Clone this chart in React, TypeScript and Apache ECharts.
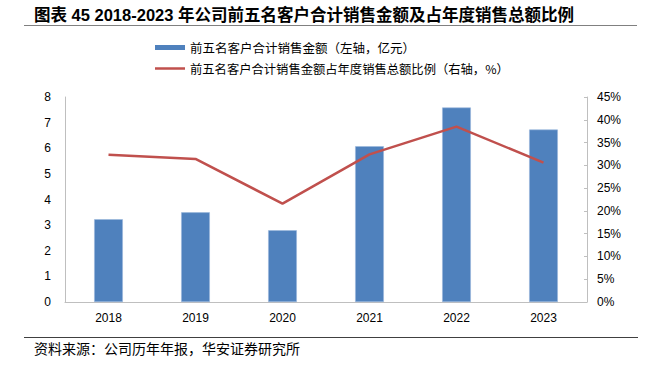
import React, { useEffect, useRef } from "react";
import * as echarts from "echarts";

const years = ["2018", "2019", "2020", "2021", "2022", "2023"];
const salesTop5 = [3.23, 3.5, 2.8, 6.08, 7.59, 6.73];
const shareTop5 = [32.3, 31.4, 21.6, 32.4, 38.5, 30.6];
const leftTicks = { min: 0, max: 8, interval: 1 };
const rightTicks = { min: 0, max: 45, interval: 5 };

const titleText = "图表 45 2018-2023 年公司前五名客户合计销售金额及占年度销售总额比例";
const legendBar = "前五名客户合计销售金额（左轴，亿元）";
const legendLine = "前五名客户合计销售金额占年度销售总额比例（右轴，%）";
const sourceText = "资料来源：公司历年年报，华安证券研究所";

const BLUE = "#4f81bd";
const RED = "#c0504d";
const CJK = '"Noto Sans CJK SC", "Noto Sans", sans-serif';
const LATIN = '"Liberation Sans", Arial, sans-serif';
const MIXED = '"Liberation Sans", "Noto Sans CJK SC", sans-serif';

export default function App() {
  const ref = useRef<HTMLDivElement>(null);
  useEffect(() => {
    if (!ref.current) return;
    const chart = echarts.init(ref.current, undefined, { renderer: "svg" });
    chart.setOption({
      animation: false,
      backgroundColor: "#ffffff",
      grid: { left: 65, right: 64, top: 97, bottom: 63, containLabel: false },
      xAxis: {
        type: "category",
        data: years,
        axisLine: { show: true, lineStyle: { color: "#bfbfbf", width: 1 } },
        axisTick: { show: false },
        axisLabel: { color: "#000", fontFamily: LATIN, fontSize: 12, margin: 10 },
      },
      yAxis: [
        {
          type: "value",
          min: leftTicks.min,
          max: leftTicks.max,
          interval: leftTicks.interval,
          position: "left",
          axisLine: { show: true, lineStyle: { color: "#bfbfbf", width: 1 } },
          axisTick: { show: false },
          splitLine: { show: false },
          axisLabel: { color: "#000", fontFamily: LATIN, fontSize: 12, margin: 14 },
        },
        {
          type: "value",
          min: rightTicks.min,
          max: rightTicks.max,
          interval: rightTicks.interval,
          position: "right",
          axisLine: { show: true, lineStyle: { color: "#bfbfbf", width: 1 } },
          axisTick: { show: true, inside: true, length: 3, lineStyle: { color: "#bfbfbf" } },
          splitLine: { show: false },
          axisLabel: {
            color: "#000",
            fontFamily: LATIN,
            fontSize: 12,
            margin: 10,
            formatter: (v: number) => `${v}%`,
          },
        },
      ],
      series: [
        {
          type: "bar",
          name: legendBar,
          data: salesTop5,
          yAxisIndex: 0,
          barWidth: "33%",
          itemStyle: { color: BLUE, borderColor: "#9bb7dc", borderWidth: 0.6 },
        },
        {
          type: "line",
          name: legendLine,
          data: shareTop5,
          yAxisIndex: 1,
          symbol: "none",
          lineStyle: { color: RED, width: 2.5 },
          itemStyle: { color: RED },
        },
      ],
      graphic: [
        {
          type: "text",
          x: 34,
          y: 15,
          style: {
            text: titleText,
            font: `bold 16.5px ${MIXED}`,
            fill: "#000",
            textVerticalAlign: "middle",
          },
        },
        {
          type: "line",
          shape: { x1: 24, y1: 25.5, x2: 637, y2: 25.5 },
          style: { stroke: "#808080", lineWidth: 1 },
        },
        {
          type: "rect",
          shape: { x: 155, y: 45, width: 30, height: 5 },
          style: { fill: BLUE },
        },
        {
          type: "text",
          x: 190,
          y: 47.5,
          style: {
            text: legendBar,
            font: `12.5px ${CJK}`,
            fill: "#000",
            textVerticalAlign: "middle",
          },
        },
        {
          type: "line",
          shape: { x1: 155, y1: 68.5, x2: 185, y2: 68.5 },
          style: { stroke: RED, lineWidth: 2.5 },
        },
        {
          type: "text",
          x: 190,
          y: 68.5,
          style: {
            text: legendLine,
            font: `12.3px ${CJK}`,
            fill: "#000",
            textVerticalAlign: "middle",
          },
        },
        {
          type: "line",
          shape: { x1: 24, y1: 337.5, x2: 638, y2: 337.5 },
          style: { stroke: "#404040", lineWidth: 1 },
        },
        {
          type: "text",
          x: 34,
          y: 348,
          style: {
            text: sourceText,
            font: `14px ${CJK}`,
            fill: "#000",
            textVerticalAlign: "middle",
          },
        },
      ],
    });
    return () => chart.dispose();
  }, []);
  return <div ref={ref} style={{ width: 651, height: 365, position: "fixed", left: 0, top: 0 }} />;
}
